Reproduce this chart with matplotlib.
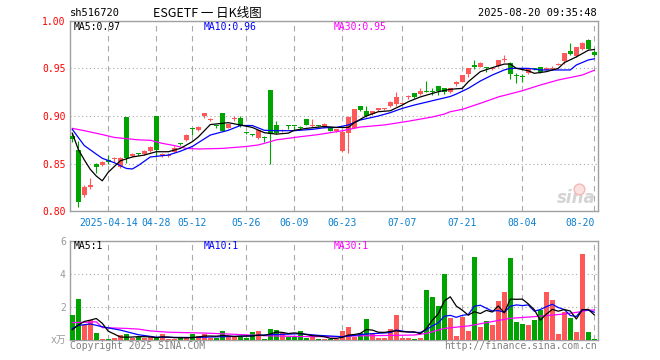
import matplotlib
matplotlib.use("Agg")
import matplotlib.pyplot as plt
import numpy as np

plt.rcParams['font.family'] = ['DejaVu Sans Mono', 'Noto Sans CJK SC']

# ---- daily bars (one per trading day, index 0..87) ----
opens = [0.879, 0.864, 0.817, 0.8255, 0.850, 0.849, 0.854, 0.8545, 0.847, 0.899,
         0.858, 0.861, 0.860, 0.863, 0.900, 0.858, 0.858, 0.8625, 0.871, 0.875,
         0.887, 0.885, 0.8995, 0.896, 0.8905, 0.9035, 0.8877, 0.8965, 0.8976, 0.8825,
         0.881, 0.8766, 0.877, 0.927, 0.8906, 0.884, 0.8903, 0.8898, 0.8875, 0.8965,
         0.889, 0.889, 0.888, 0.888, 0.884, 0.8636, 0.8825, 0.8877, 0.9105, 0.9052,
         0.902, 0.906, 0.907, 0.910, 0.9126, 0.9126, 0.9196, 0.9245, 0.923, 0.9262,
         0.926, 0.9315, 0.929, 0.925, 0.9333, 0.936, 0.944, 0.9535, 0.9517, 0.951,
         0.949, 0.9525, 0.9585, 0.9553, 0.9425, 0.9415, 0.9448, 0.9495, 0.9517, 0.9483,
         0.949, 0.9535, 0.958, 0.9685, 0.963, 0.970, 0.9797, 0.9675]
highs = [0.882, 0.874, 0.828, 0.835, 0.851, 0.853, 0.859, 0.857, 0.857, 0.899,
         0.861, 0.861, 0.864, 0.868, 0.900, 0.861, 0.861, 0.869, 0.8715, 0.881,
         0.887, 0.889, 0.9035, 0.898, 0.891, 0.9035, 0.8916, 0.900, 0.900, 0.8828,
         0.881, 0.8853, 0.8785, 0.927, 0.895, 0.886, 0.8905, 0.890, 0.889, 0.8965,
         0.8966, 0.8895, 0.8925, 0.888, 0.8865, 0.886, 0.900, 0.907, 0.9105, 0.9105,
         0.9055, 0.9085, 0.9085, 0.9155, 0.9255, 0.9145, 0.922, 0.9245, 0.929, 0.937,
         0.929, 0.932, 0.929, 0.9295, 0.9365, 0.9435, 0.9507, 0.9588, 0.9565, 0.9518,
         0.951, 0.9588, 0.964, 0.957, 0.945, 0.944, 0.9495, 0.950, 0.9517, 0.951,
         0.952, 0.956, 0.9658, 0.9763, 0.9727, 0.978, 0.981, 0.969]
lows = [0.873, 0.805, 0.815, 0.823, 0.840, 0.848, 0.850, 0.852, 0.845, 0.851,
        0.857, 0.859, 0.859, 0.862, 0.858, 0.857, 0.857, 0.862, 0.870, 0.874,
        0.880, 0.884, 0.898, 0.895, 0.887, 0.884, 0.887, 0.895, 0.888, 0.8815,
        0.879, 0.876, 0.873, 0.850, 0.881, 0.883, 0.886, 0.8855, 0.885, 0.891,
        0.888, 0.8885, 0.8875, 0.884, 0.8835, 0.862, 0.861, 0.887, 0.905, 0.899,
        0.9015, 0.9055, 0.9065, 0.909, 0.911, 0.912, 0.918, 0.919, 0.922, 0.925,
        0.922, 0.922, 0.9235, 0.9245, 0.932, 0.9355, 0.941, 0.9488, 0.951, 0.946,
        0.9485, 0.9518, 0.957, 0.939, 0.935, 0.936, 0.944, 0.948, 0.9455, 0.948,
        0.9485, 0.953, 0.955, 0.964, 0.962, 0.969, 0.9703, 0.963]
closes = [0.876, 0.810, 0.826, 0.828, 0.846, 0.852, 0.852, 0.856, 0.856, 0.856,
          0.860, 0.860, 0.863, 0.867, 0.864, 0.860, 0.859, 0.866, 0.8705, 0.880,
          0.886, 0.888, 0.903, 0.897, 0.889, 0.8846, 0.8916, 0.898, 0.8895, 0.882,
          0.880, 0.885, 0.8766, 0.881, 0.8825, 0.885, 0.8898, 0.8895, 0.887, 0.891,
          0.890, 0.889, 0.8916, 0.8846, 0.886, 0.8835, 0.899, 0.907, 0.9063, 0.9003,
          0.905, 0.908, 0.908, 0.915, 0.9196, 0.914, 0.921, 0.920, 0.9265, 0.9255,
          0.9255, 0.9265, 0.925, 0.929, 0.936, 0.943, 0.9507, 0.9517, 0.9553, 0.950,
          0.9505, 0.9588, 0.959, 0.9438, 0.942, 0.941, 0.949, 0.949, 0.9458, 0.9507,
          0.9505, 0.9542, 0.9658, 0.965, 0.9727, 0.977, 0.9703, 0.964]
# volume, in 万
volumes = [1.51, 2.48, 0.91, 1.21, 0.40, 0.06, 0.05, 0.10, 0.28, 0.36,
           0.10, 0.16, 0.10, 0.24, 0.12, 0.36, 0.06, 0.06, 0.10, 0.16,
           0.36, 0.24, 0.36, 0.10, 0.10, 0.54, 0.16, 0.16, 0.20, 0.10,
           0.48, 0.56, 0.08, 0.66, 0.60, 0.40, 0.20, 0.20, 0.54, 0.10,
           0.24, 0.06, 0.06, 0.06, 0.06, 0.56, 0.78, 0.18, 0.40, 1.25,
           0.40, 0.14, 0.10, 0.66, 1.51, 0.10, 0.10, 0.06, 0.14, 3.02,
           2.62, 2.05, 3.99, 1.35, 0.24, 1.37, 0.56, 5.03, 0.80, 1.17,
           0.91, 2.38, 2.92, 4.97, 1.11, 0.97, 0.91, 1.21, 1.81, 2.92,
           2.42, 0.36, 1.71, 1.35, 0.50, 5.20, 0.50, 0.06]

# ---- moving averages ----
ma5_idx = [0, 1, 2, 3, 4, 5, 6, 7, 8, 10, 12, 14, 16, 18, 20, 21, 23, 26, 28, 30,
           32, 34, 36, 37, 39, 42, 44, 46, 47, 49, 51, 53, 55, 56, 58, 61, 63, 65,
           66, 68, 70, 72, 73, 74, 76, 77, 79, 81, 82, 84, 86, 87]
ma5_val = [0.882, 0.865, 0.854, 0.844, 0.837, 0.832, 0.841, 0.847, 0.853, 0.857,
           0.859, 0.8625, 0.8625, 0.866, 0.873, 0.878, 0.891, 0.893, 0.8906, 0.888,
           0.8825, 0.881, 0.882, 0.885, 0.887, 0.889, 0.888, 0.888, 0.893, 0.900,
           0.9045, 0.9055, 0.9115, 0.915, 0.920, 0.9255, 0.928, 0.929, 0.936, 0.9465,
           0.9507, 0.9545, 0.9545, 0.950, 0.9475, 0.9448, 0.9465, 0.950, 0.956, 0.962,
           0.969, 0.9698]
ma10_idx = [0, 2, 4, 5, 7, 9, 10, 11, 13, 16, 18, 20, 21, 23, 26, 28, 30, 32, 34, 37,
            40, 42, 44, 46, 48, 51, 53, 55, 57, 60, 63, 64, 66, 68, 70, 72, 73, 76,
            78, 83, 84, 86, 87]
ma10_val = [0.886, 0.869, 0.860, 0.8556, 0.851, 0.845, 0.8444, 0.848, 0.857, 0.859,
            0.863, 0.868, 0.872, 0.880, 0.885, 0.890, 0.890, 0.885, 0.8846, 0.8846,
            0.886, 0.8877, 0.888, 0.8906, 0.8958, 0.900, 0.9035, 0.908, 0.9115, 0.916,
            0.9205, 0.923, 0.929, 0.9367, 0.943, 0.9483, 0.950, 0.950, 0.9483, 0.9483,
            0.9535, 0.9588, 0.960]
ma30_idx = [0, 2, 5, 7, 11, 13, 15, 17, 19, 21, 25, 29, 31, 33, 34, 36, 38, 39, 41,
            43, 45, 48, 52, 56, 60, 62, 63, 65, 68, 71, 75, 78, 81, 85, 87]
ma30_val = [0.887, 0.8846, 0.8805, 0.8775, 0.875, 0.8745, 0.8713, 0.869, 0.866, 0.8654,
            0.866, 0.868, 0.8696, 0.873, 0.875, 0.8766, 0.8783, 0.879, 0.8805, 0.8825,
            0.8845, 0.8884, 0.8906, 0.8945, 0.899, 0.902, 0.9045, 0.907, 0.9133, 0.920,
            0.9265, 0.9325, 0.9378, 0.943, 0.948]

vma5 = [0.62, 0.90, 1.12, 1.20, 1.30, 1.01, 0.53, 0.36, 0.18, 0.17,
        0.18, 0.20, 0.20, 0.19, 0.14, 0.19, 0.18, 0.14, 0.14, 0.13,
        0.15, 0.18, 0.24, 0.24, 0.23, 0.27, 0.25, 0.21, 0.23, 0.24,
        0.24, 0.30, 0.28, 0.36, 0.48, 0.46, 0.39, 0.43, 0.39, 0.33,
        0.26, 0.24, 0.20, 0.10, 0.10, 0.16, 0.30, 0.33, 0.40, 0.63,
        0.60, 0.47, 0.46, 0.51, 0.56, 0.50, 0.49, 0.49, 0.38, 0.68,
        1.19, 1.58, 2.36, 2.61, 2.05, 1.80, 1.50, 1.71, 1.60, 1.79,
        1.69, 2.06, 1.64, 2.47, 2.46, 2.47, 2.18, 1.83, 1.20, 1.56,
        1.85, 1.74, 1.84, 1.75, 1.27, 1.82, 1.85, 1.52]
vma10_idx = [0, 1, 3, 5, 8, 11, 14, 20, 25, 29, 33, 38, 41, 45, 49, 53, 54, 56, 58,
             59, 60, 61, 62, 63, 64, 65, 66, 67, 68, 69, 70, 71, 72, 73, 74, 75, 76,
             77, 78, 79, 80, 81, 82, 83, 84, 85, 86, 87]
vma10_val = [0.70, 0.88, 0.97, 0.80, 0.60, 0.32, 0.17, 0.15, 0.20, 0.24, 0.32, 0.38,
             0.28, 0.20, 0.36, 0.45, 0.60, 0.48, 0.45,
             0.62, 0.85, 1.04, 1.43, 1.49, 1.37, 1.49, 1.54, 2.04, 2.10, 1.92, 1.75,
             1.78, 1.67, 2.04, 2.12, 2.08, 2.12, 1.74, 1.84, 2.01, 2.16, 1.96, 1.84,
             1.48, 1.42, 1.84, 1.80, 1.68]
vma30_idx = [0, 3, 4, 5, 9, 11, 13, 16, 22, 26, 32, 38, 45, 46, 57, 59, 62, 66, 73,
             77, 82, 85, 86, 87]
vma30_val = [1.05, 1.08, 1.10, 0.75, 0.70, 0.66, 0.55, 0.47, 0.42, 0.36, 0.26, 0.21,
             0.20, 0.24, 0.30, 0.40, 0.70, 0.85, 1.31, 1.41, 1.57, 1.72, 1.81, 1.81]

tick_idx = [6, 14, 20, 29, 37, 45, 55, 65, 75, 87]
tick_labels = ['2025-04-14', '04-28', '05-12', '05-26', '06-09', '06-23',
               '07-07', '07-21', '08-04', '08-20']

RED = '#ff5858'
GREEN = '#00a400'
FRAME = '#a0a0a0'
GRID = '#aaaaaa'
W, H = 660, 360


def box(l, t, r, b):
    return [l / W, 1 - b / H, (r - l) / W, (b - t) / H]


def ftext(x, y, s, **kw):
    fig.text(x / W, 1 - y / H, s, va='center', **kw)


fig = plt.figure(figsize=(6.6, 3.6), dpi=100)
ax = fig.add_axes(box(70, 20.7, 597.6, 211.3))
axv = fig.add_axes(box(70, 240.7, 597.6, 340))

x = np.arange(len(closes))
o = np.array(opens)
c = np.array(closes)
cols = np.where(c > o, RED, GREEN)

# candles
ax.vlines(x, lows, highs, colors=cols, linewidth=0.8, zorder=2)
ax.bar(x, np.maximum(np.abs(c - o), 0.0011), bottom=np.minimum(o, c), width=0.8,
       color=cols, linewidth=0, zorder=3)
ax.plot(ma30_idx, ma30_val, color='#ff00ff', lw=0.9, zorder=4)
ax.plot(ma10_idx, ma10_val, color='#0000ff', lw=0.9, zorder=5)
ax.plot(ma5_idx, ma5_val, color='black', lw=0.9, zorder=6)

# volume
axv.bar(x, volumes, width=0.8, color=cols, linewidth=0, zorder=3)
axv.plot(vma30_idx, vma30_val, color='#ff00ff', lw=0.9, zorder=4)
axv.plot(vma10_idx, vma10_val, color='#0000ff', lw=0.9, zorder=5)
axv.plot(x, vma5, color='black', lw=0.9, zorder=6)

for a in (ax, axv):
    a.set_xlim(-0.38, 87.55)
    a.set_xticks(tick_idx)
    a.grid(axis='x', color=GRID, linestyle=(0, (5, 4)), linewidth=0.8, zorder=0)
    a.grid(axis='y', color=GRID, linestyle=(0, (1, 2.5)), linewidth=0.8, zorder=0)
    for s in a.spines.values():
        s.set_color(FRAME)
        s.set_linewidth(1.0)
    a.tick_params(length=0)

ax.set_ylim(0.80, 1.00)
ax.set_yticks([0.80, 0.85, 0.90, 0.95, 1.00])
ax.set_yticklabels(['0.80', '0.85', '0.90', '0.95', '1.00'])
ax.tick_params(axis='y', labelcolor='#ff0000', labelsize=7, pad=3)
ax.set_xticklabels(tick_labels)
ax.tick_params(axis='x', labelcolor='#0a7fd0', labelsize=7, pad=5)
ax.get_xticklabels()[-1].set_ha('right')

axv.set_ylim(0, 6)
axv.set_yticks([2, 4, 6])
axv.set_yticklabels(['2', '4', '6'])
axv.tick_params(axis='y', labelcolor='#999999', labelsize=7, pad=3)
axv.set_xticklabels([])

# sina watermark
ax.text(0.996, 0.02, 'sina', transform=ax.transAxes, ha='right', va='bottom',
        fontsize=12, fontweight='bold', style='italic', color='#d4d4d4',
        family='DejaVu Sans', zorder=1)
ax.scatter([0.965], [0.115], s=60, transform=ax.transAxes, facecolor='#fbe0e0',
           edgecolor='#f2b8b8', linewidth=1, zorder=1)

# texts
ftext(70, 13, 'sh516720', fontsize=7.5, color='black')
ftext(207, 13, 'ESGETF 一 日K线图', fontsize=9, color='black', ha='center',
      family=['Noto Sans CJK SC', 'DejaVu Sans'])
ftext(597, 13, '2025-08-20 09:35:48', fontsize=7.5, color='black', ha='right')
ftext(74, 26.5, 'MA5:0.97', fontsize=7, color='black')
ftext(204, 26.5, 'MA10:0.96', fontsize=7, color='#0000ff')
ftext(334, 26.5, 'MA30:0.95', fontsize=7, color='#ff00ff')
ftext(74, 246, 'MA5:1', fontsize=7, color='black')
ftext(204, 246, 'MA10:1', fontsize=7, color='#0000ff')
ftext(334, 246, 'MA30:1', fontsize=7, color='#ff00ff')
ftext(66, 340, 'x万', fontsize=7, color='#999999', ha='right')
ftext(70, 346, 'Copyright 2025 SINA.COM', fontsize=7, color='#808080')
ftext(597, 346, 'http://finance.sina.com.cn', fontsize=7, color='#808080', ha='right')

fig.savefig('out.png', dpi=100)
